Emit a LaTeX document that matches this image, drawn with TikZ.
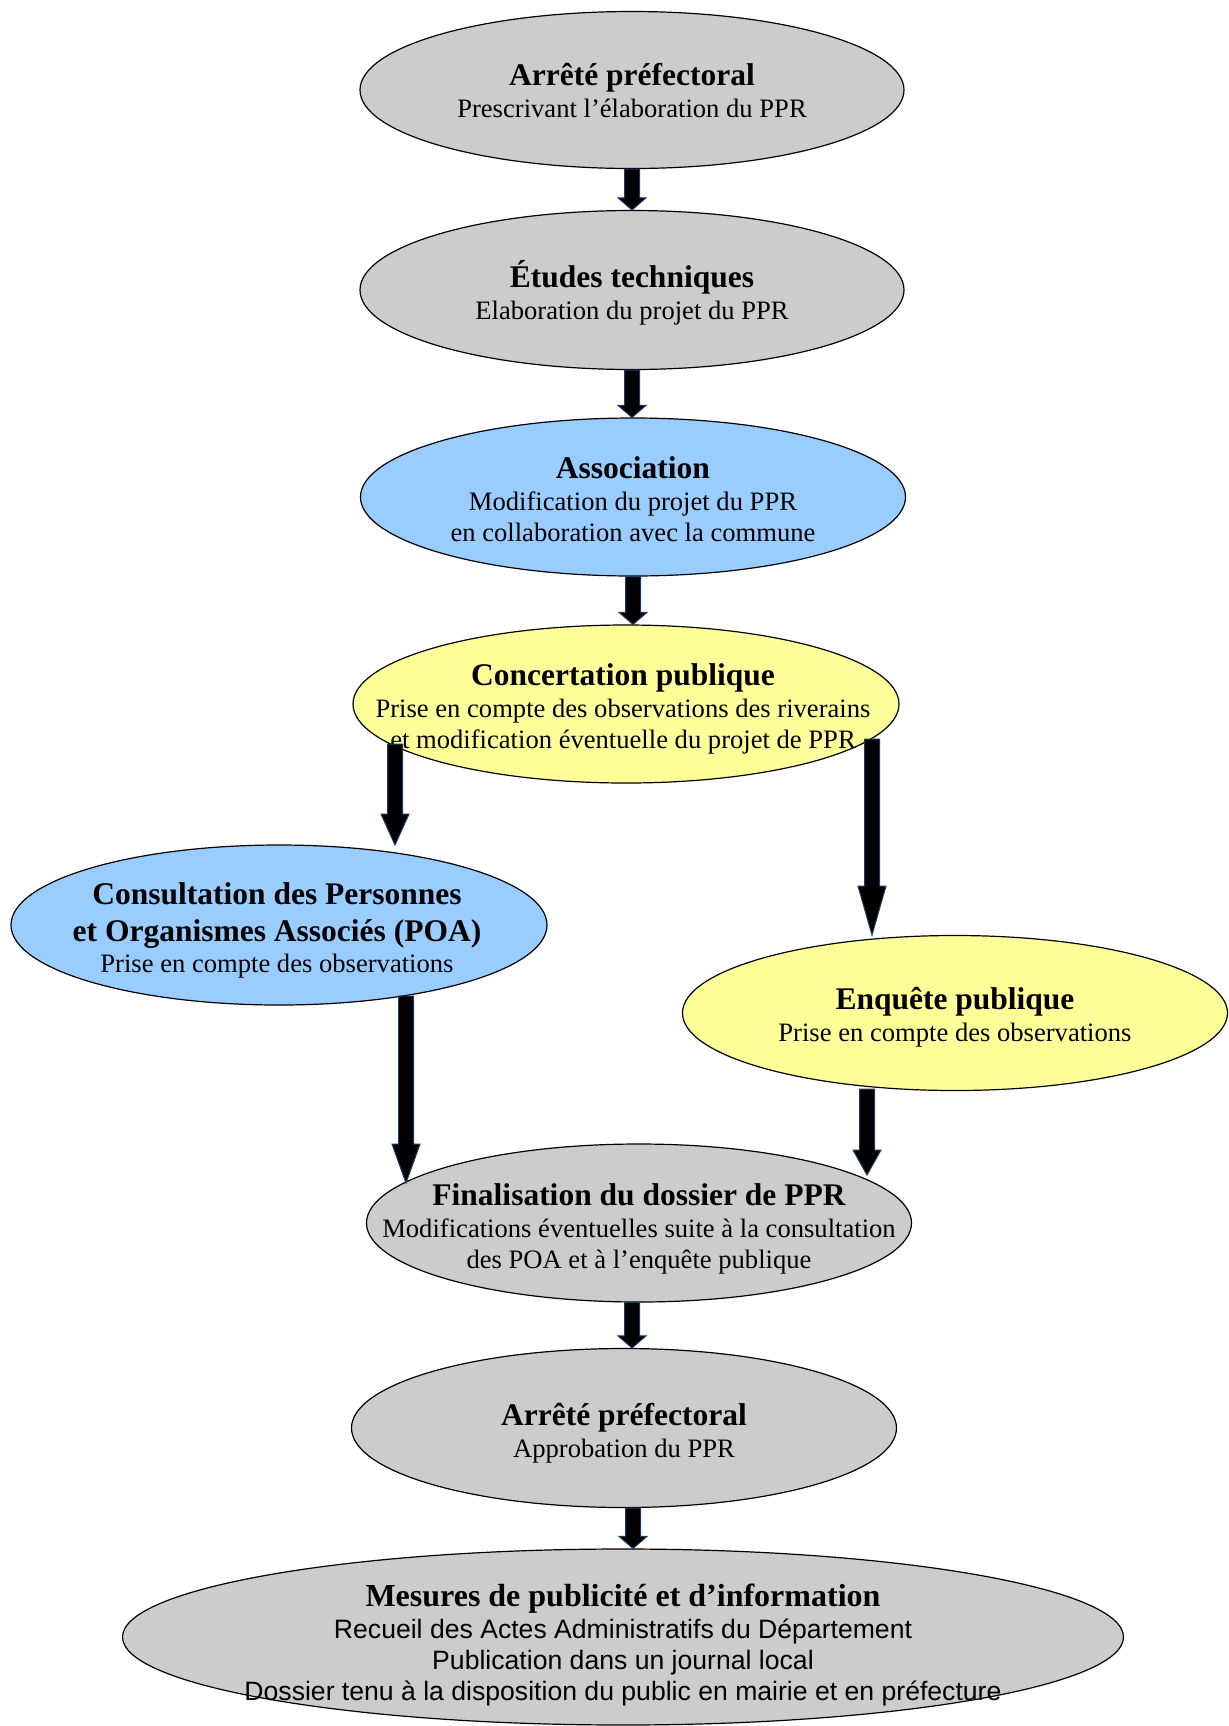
\documentclass[tikz,border=0pt]{standalone}
\usepackage{fontspec}
\setmainfont{Liberation Serif}
\newfontfamily\arialfont{Liberation Sans}
\usetikzlibrary{calc,shapes.geometric}
\definecolor{graybg}{HTML}{CCCCCC}
\definecolor{bluebg}{HTML}{99CCFF}
\definecolor{yellowbg}{HTML}{FFFF99}
\definecolor{arrowline}{HTML}{1F3A68}
\newcommand\ttl[1]{{\fontsize{15.75}{16.5}\selectfont\bfseries #1}}
\newcommand\blockarrow[3]{%
  \draw[blockarr] let \p1=(#1), \p2=(#2) in
   (\x1-3.75pt,\y1) -- (\x1+3.75pt,\y1) -- (\x1+3.75pt,\y2+#3*0.5pt) -- (\x1+7pt,\y2+#3*0.5pt)
   -- (\x1,\y2) -- (\x1-7pt,\y2+#3*0.5pt) -- (\x1-3.75pt,\y2+#3*0.5pt) -- cycle;}
\tikzset{
  ell/.style={ellipse, draw=black, line width=0.6pt, inner sep=0pt},
  txt/.style={align=center, font=\fontsize{13.3}{15.5}\selectfont},
  blockarr/.style={fill=black, draw=arrowline, line width=0.5pt},
}
\begin{document}
\begin{tikzpicture}[x=0.5pt,y=-0.5pt]
\useasboundingbox (0,0) rectangle (1228,1726);
% ellipses
\node[ell, fill=graybg, minimum width=272pt, minimum height=78.5pt] (e1) at (632,90) {};
\node[ell, fill=graybg, minimum width=272pt, minimum height=79.5pt] (e2) at (632,290) {};
\node[ell, fill=bluebg, minimum width=272.5pt, minimum height=79pt] (e3) at (633,497) {};
\node[ell, fill=yellowbg, minimum width=273pt, minimum height=79pt] (e4) at (626,704) {};
\node[ell, fill=bluebg, minimum width=268pt, minimum height=80pt] (e5) at (279,925) {};
\node[ell, fill=yellowbg, minimum width=272.5pt, minimum height=77.5pt] (e6) at (955,1013) {};
\node[ell, fill=graybg, minimum width=272.5pt, minimum height=79pt] (e7) at (639,1223) {};
\node[ell, fill=graybg, minimum width=272.5pt, minimum height=79.5pt] (e8) at (624,1428) {};
\node[ell, fill=graybg, minimum width=500.5pt, minimum height=88pt] (e9) at (623,1637) {};
% texts
\node[txt] (t1) at ($(e1.center)+(0,1)$) {\ttl{Arrêté préfectoral}\\[0.5pt]Prescrivant l’élaboration du PPR};
\node[txt] (t2) at ($(e2.center)+(0,3)$) {\ttl{Études techniques}\\[0.5pt]Elaboration du projet du PPR};
\node[txt] (t3) at ($(e3.center)+(0,2)$) {\ttl{Association}\\[0.5pt]Modification du projet du PPR\\en collaboration avec la commune};
\node[txt] (t4) at ($(e4.center)+(-3,5)$) {\ttl{Concertation publique}\\[0.5pt]Prise en compte des observations des riverains\\et modification éventuelle du projet de PPR};
\node[txt] (t5) at ($(e5.center)+(-2,5)$) {\ttl{Consultation des Personnes}\\[3pt]\ttl{et Organismes Associés (POA)}\\[0pt]Prise en compte des observations};
\node[txt] (t6) at ($(e6.center)+(0,4)$) {\ttl{Enquête publique}\\[0.5pt]Prise en compte des observations};
\node[txt] (t7) at ($(e7.center)+(0,6)$) {\ttl{Finalisation du dossier de PPR}\\[0.5pt]Modifications éventuelles suite à la consultation\\des POA et à l’enquête publique};
\node[txt] (t8) at ($(e8.center)+(0,5)$) {\ttl{Arrêté préfectoral}\\[0.5pt]Approbation du PPR};
\node[txt] (t9) at ($(e9.center)+(0,8)$) {{\fontsize{16}{16.5}\selectfont\bfseries Mesures de publicité et d’information}\\[0.5pt]{\arialfont Recueil des Actes Administratifs du Département}\\{\arialfont Publication dans un journal local}\\{\arialfont Dossier tenu à la disposition du public en mairie et en préfecture}};
% arrow end points
\coordinate (a4s) at ($(e4.center)+(-231,40)$);
\coordinate (a4e) at ($(e5.center)+(116,-80)$);
\coordinate (a5s) at ($(e4.center)+(246,35)$);
\coordinate (a5e) at ($(e6.center)+(-83,-78)$);
\coordinate (a6s) at ($(e5.center)+(127,71)$);
\coordinate (a6e) at ($(e7.center)+(-233,-40)$);
\coordinate (a7s) at ($(e6.center)+(-88,76)$);
\coordinate (a7e) at ($(e7.center)+(228,-48)$);
% arrows
\blockarrow{e1.south}{e2.north}{12}
\blockarrow{e2.south}{e3.north}{12}
\blockarrow{e3.south}{e4.north}{12}
\blockarrow{a4s}{a4e}{31}
\blockarrow{a5s}{a5e}{49}
\blockarrow{a6s}{a6e}{39}
\blockarrow{a7s}{a7e}{25}
\blockarrow{$(e7.south)+(-7,0)$}{e8.north}{12}
\blockarrow{$(e8.south)+(9,0)$}{e9.north}{12}
\end{tikzpicture}
\end{document}
